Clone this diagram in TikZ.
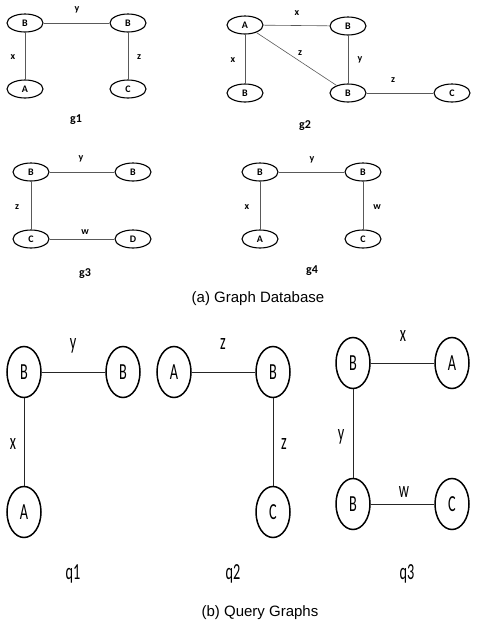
\documentclass[tikz,border=0pt]{standalone}
\usepackage{fontspec}
\usepackage{graphicx}
\setmainfont{Carlito}
\newfontfamily\capfont{Liberation Sans}
\usetikzlibrary{shapes.geometric}
% narrow letters for the query graphs
\newcommand{\slim}[1]{\scalebox{0.62}[1]{#1}}

\begin{document}
\begin{tikzpicture}[x=1pt, y=-1pt,
    gv/.style={ellipse, draw, line width=1.1pt, minimum width=36pt,
      minimum height=18pt, inner sep=0pt,
      font=\bfseries\fontsize{10}{10}\selectfont},
    qv/.style={ellipse, draw, line width=1.5pt, minimum width=34pt,
      minimum height=51pt, inner sep=0pt,
      font=\fontsize{23}{23}\selectfont},
    ge/.style={draw=black!65, line width=0.6pt},
    qe/.style={draw=black!85, line width=0.9pt},
    glab/.style={font=\bfseries\fontsize{10}{10}\selectfont},
    gname/.style={font=\bfseries\fontsize{12}{12}\selectfont},
    qlab/.style={font=\fontsize{23}{23}\selectfont},
    caption/.style={font=\capfont\fontsize{15}{15}\selectfont}]
  \useasboundingbox (0,0) rectangle (481,622);

  %% g1
  \node[gv] (g1b1) at ( 25, 23) {B};
  \node[gv] (g1b2) at (128, 23) {B};
  \node[gv] (g1a)  at ( 25, 89) {A};
  \node[gv] (g1c)  at (128, 89) {C};
  \node[glab] (g1y) at ( 77, 10) {y};
  \node[glab] (g1x) at ( 13, 57) {x};
  \node[glab] (g1z) at (139, 57) {z};
  \node[gname] (g1) at ( 76,120) {g1};
  \draw[ge] (g1b1) -- (g1b2);
  \draw[ge] (g1b1) -- (g1a);
  \draw[ge] (g1b2) -- (g1c);

  %% g2
  \node[gv] (g2a)  at (245, 25) {A};
  \node[gv] (g2b1) at (348, 26) {B};
  \node[gv] (g2b2) at (245, 93) {B};
  \node[gv] (g2b3) at (348, 93) {B};
  \node[gv] (g2c)  at (452, 93) {C};
  \node[glab] (g2x1) at (297, 13) {x};
  \node[glab] (g2x2) at (233, 60) {x};
  \node[glab] (g2z1) at (300, 53) {z};
  \node[glab] (g2y)  at (360, 60) {y};
  \node[glab] (g2z2) at (393, 80) {z};
  \node[gname] (g2) at (305,126) {g2};
  \draw[ge] (g2a) -- (g2b1);
  \draw[ge] (g2a) -- (g2b2);
  \draw[ge] (g2a) -- (g2b3);
  \draw[ge] (g2b1) -- (g2b3);
  \draw[ge] (g2b3) -- (g2c);

  %% g3
  \node[gv] (g3b1) at ( 31,172) {B};
  \node[gv] (g3b2) at (133,172) {B};
  \node[gv] (g3c)  at ( 31,239) {C};
  \node[gv] (g3d)  at (133,239) {D};
  \node[glab] (g3y) at ( 81,159) {y};
  \node[glab] (g3z) at ( 17,207) {z};
  \node[glab] (g3w) at ( 85,232) {w};
  \node[gname] (g3) at ( 85,274) {g3};
  \draw[ge] (g3b1) -- (g3b2);
  \draw[ge] (g3b1) -- (g3c);
  \draw[ge] (g3c) -- (g3d);

  %% g4
  \node[gv] (g4b1) at (260,172) {B};
  \node[gv] (g4b2) at (363,172) {B};
  \node[gv] (g4a)  at (260,239) {A};
  \node[gv] (g4c)  at (363,239) {C};
  \node[glab] (g4y) at (312,160) {y};
  \node[glab] (g4x) at (247,207) {x};
  \node[glab] (g4w) at (377,207) {w};
  \node[gname] (g4) at (312,271) {g4};
  \draw[ge] (g4b1) -- (g4b2);
  \draw[ge] (g4b1) -- (g4a);
  \draw[ge] (g4b2) -- (g4c);

  \node[caption] (dbcap) at (258,299) {(a) Graph Database};

  %% q1
  \node[qv] (q1b1) at ( 24,372) {\slim{B}};
  \node[qv] (q1b2) at (123,372) {\slim{B}};
  \node[qv] (q1a)  at ( 24,512) {\slim{A}};
  \node[qlab] (q1y) at ( 73,346) {\slim{y}};
  \node[qlab] (q1x) at ( 13,444) {\slim{x}};
  \node[qlab] (q1)  at ( 73,574) {\slim{q1}};
  \draw[qe] (q1b1) -- (q1b2);
  \draw[qe] (q1b1) -- (q1a);

  %% q2
  \node[qv] (q2a) at (174,372) {\slim{A}};
  \node[qv] (q2b) at (273,372) {\slim{B}};
  \node[qv] (q2c) at (273,512) {\slim{C}};
  \node[qlab] (q2z1) at (223,344) {\slim{z}};
  \node[qlab] (q2z2) at (284,444) {\slim{z}};
  \node[qlab] (q2)   at (233,574) {\slim{q2}};
  \draw[qe] (q2a) -- (q2b);
  \draw[qe] (q2b) -- (q2c);

  %% q3
  \node[qv] (q3b1) at (353,363) {\slim{B}};
  \node[qv] (q3a)  at (452,363) {\slim{A}};
  \node[qv] (q3b2) at (353,504) {\slim{B}};
  \node[qv] (q3c)  at (452,504) {\slim{C}};
  \node[qlab] (q3x) at (403,336) {\slim{x}};
  \node[qlab] (q3y) at (341,437) {\slim{y}};
  \node[qlab] (q3w) at (404,492) {\slim{w}};
  \node[qlab] (q3)  at (407,574) {\slim{q3}};
  \draw[qe] (q3b1) -- (q3a);
  \draw[qe] (q3b1) -- (q3b2);
  \draw[qe] (q3b2) -- (q3c);

  \node[caption] (qcap) at (260,613) {(b) Query Graphs};
\end{tikzpicture}
\end{document}
